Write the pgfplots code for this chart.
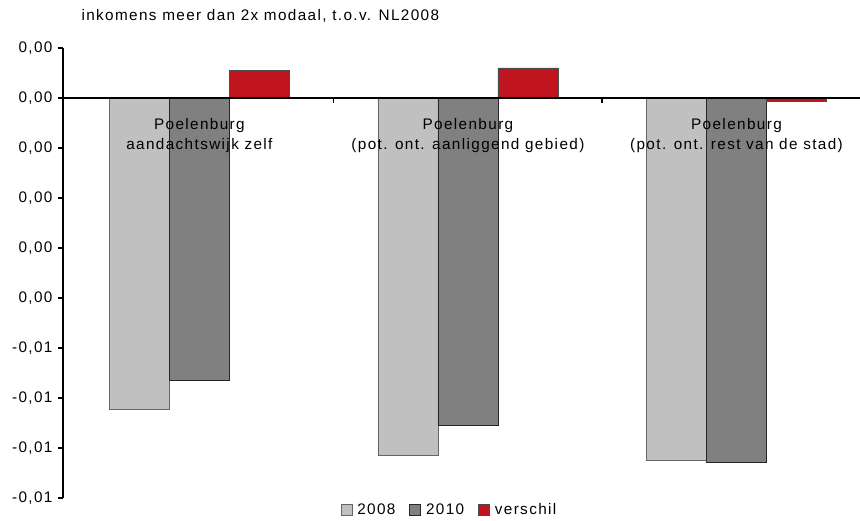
\documentclass[border=0pt]{standalone}
\usepackage{fontspec}
\setmainfont[LetterSpace=9]{Liberation Sans}
\usepackage{pgfplots}
\pgfplotsset{compat=1.18}

\definecolor{c2008}{HTML}{C0C0C0}
\definecolor{c2010}{HTML}{808080}
\definecolor{cversch}{HTML}{C0141E}

\begin{document}
\begin{tikzpicture}
\useasboundingbox (-63pt,-22pt) rectangle (797pt,498pt);
\begin{axis}[
    scale only axis,
    width=797pt, height=450pt,
    xmin=-0.508, xmax=2.46,
    ymin=-0.008, ymax=0.001,
    axis y line=left,
    axis x line=middle,
    axis line style={-, line width=1.5pt},
    axis on top,
    font=\fontsize{15.3}{20}\selectfont,
    ybar=0pt, bar width=60pt,
    scaled y ticks=false,
    ytick={-0.008,-0.007,-0.006,-0.005,-0.004,-0.003,-0.002,-0.001,0,0.001},
    yticklabels={{-0,01},{-0,01},{-0,01},{-0,01},{0,00},{0,00},{0,00},{0,00},{0,00},{0,00}},
    y tick style={line width=1.5pt, black},
    tick align=outside,
    major tick length=5pt,
    y tick label style={xshift=-2pt},
    xtick={0,1,2},
    xticklabels={Poelenburg\\aandachtswijk zelf, Poelenburg\\(pot. ont. aanliggend gebied), Poelenburg\\(pot. ont. rest van de stad)},
    x tick label style={align=center, yshift=-12pt},
    major x tick style={draw=none},
    extra x ticks={0.5,1.5},
    extra x tick labels={},
    extra x tick style={major x tick style={draw=black, line width=1.5pt}},
    title={inkomens meer dan 2x modaal, t.o.v. NL2008},
    title style={at={(0,1)}, anchor=base west, xshift=15pt, yshift=21pt},
    legend style={at={(0.485,-0.027)}, anchor=center, draw=none, fill=none,
        legend columns=-1, inner sep=0pt,
        /tikz/every odd column/.append style={column sep=3pt},
        /tikz/every even column/.append style={column sep=12pt},
        nodes={inner sep=2pt}},
    legend image code/.code={\draw[#1, line width=0.6pt] (0pt,-5.5pt) rectangle (11pt,5.5pt);},
]
\addplot[fill=c2008, draw=black!60, line width=0.8pt] coordinates {(0,-0.00622) (1,-0.00715) (2,-0.00724)};
\addplot[fill=c2010, draw=black!85, line width=0.8pt] coordinates {(0,-0.00565) (1,-0.00654) (2,-0.00729)};
\addplot[fill=cversch, draw=black!70, line width=0.8pt] coordinates {(0,0.00055) (1,0.00060) (2,-0.00007)};
\legend{2008,2010,verschil}
\end{axis}
\end{tikzpicture}
\end{document}
